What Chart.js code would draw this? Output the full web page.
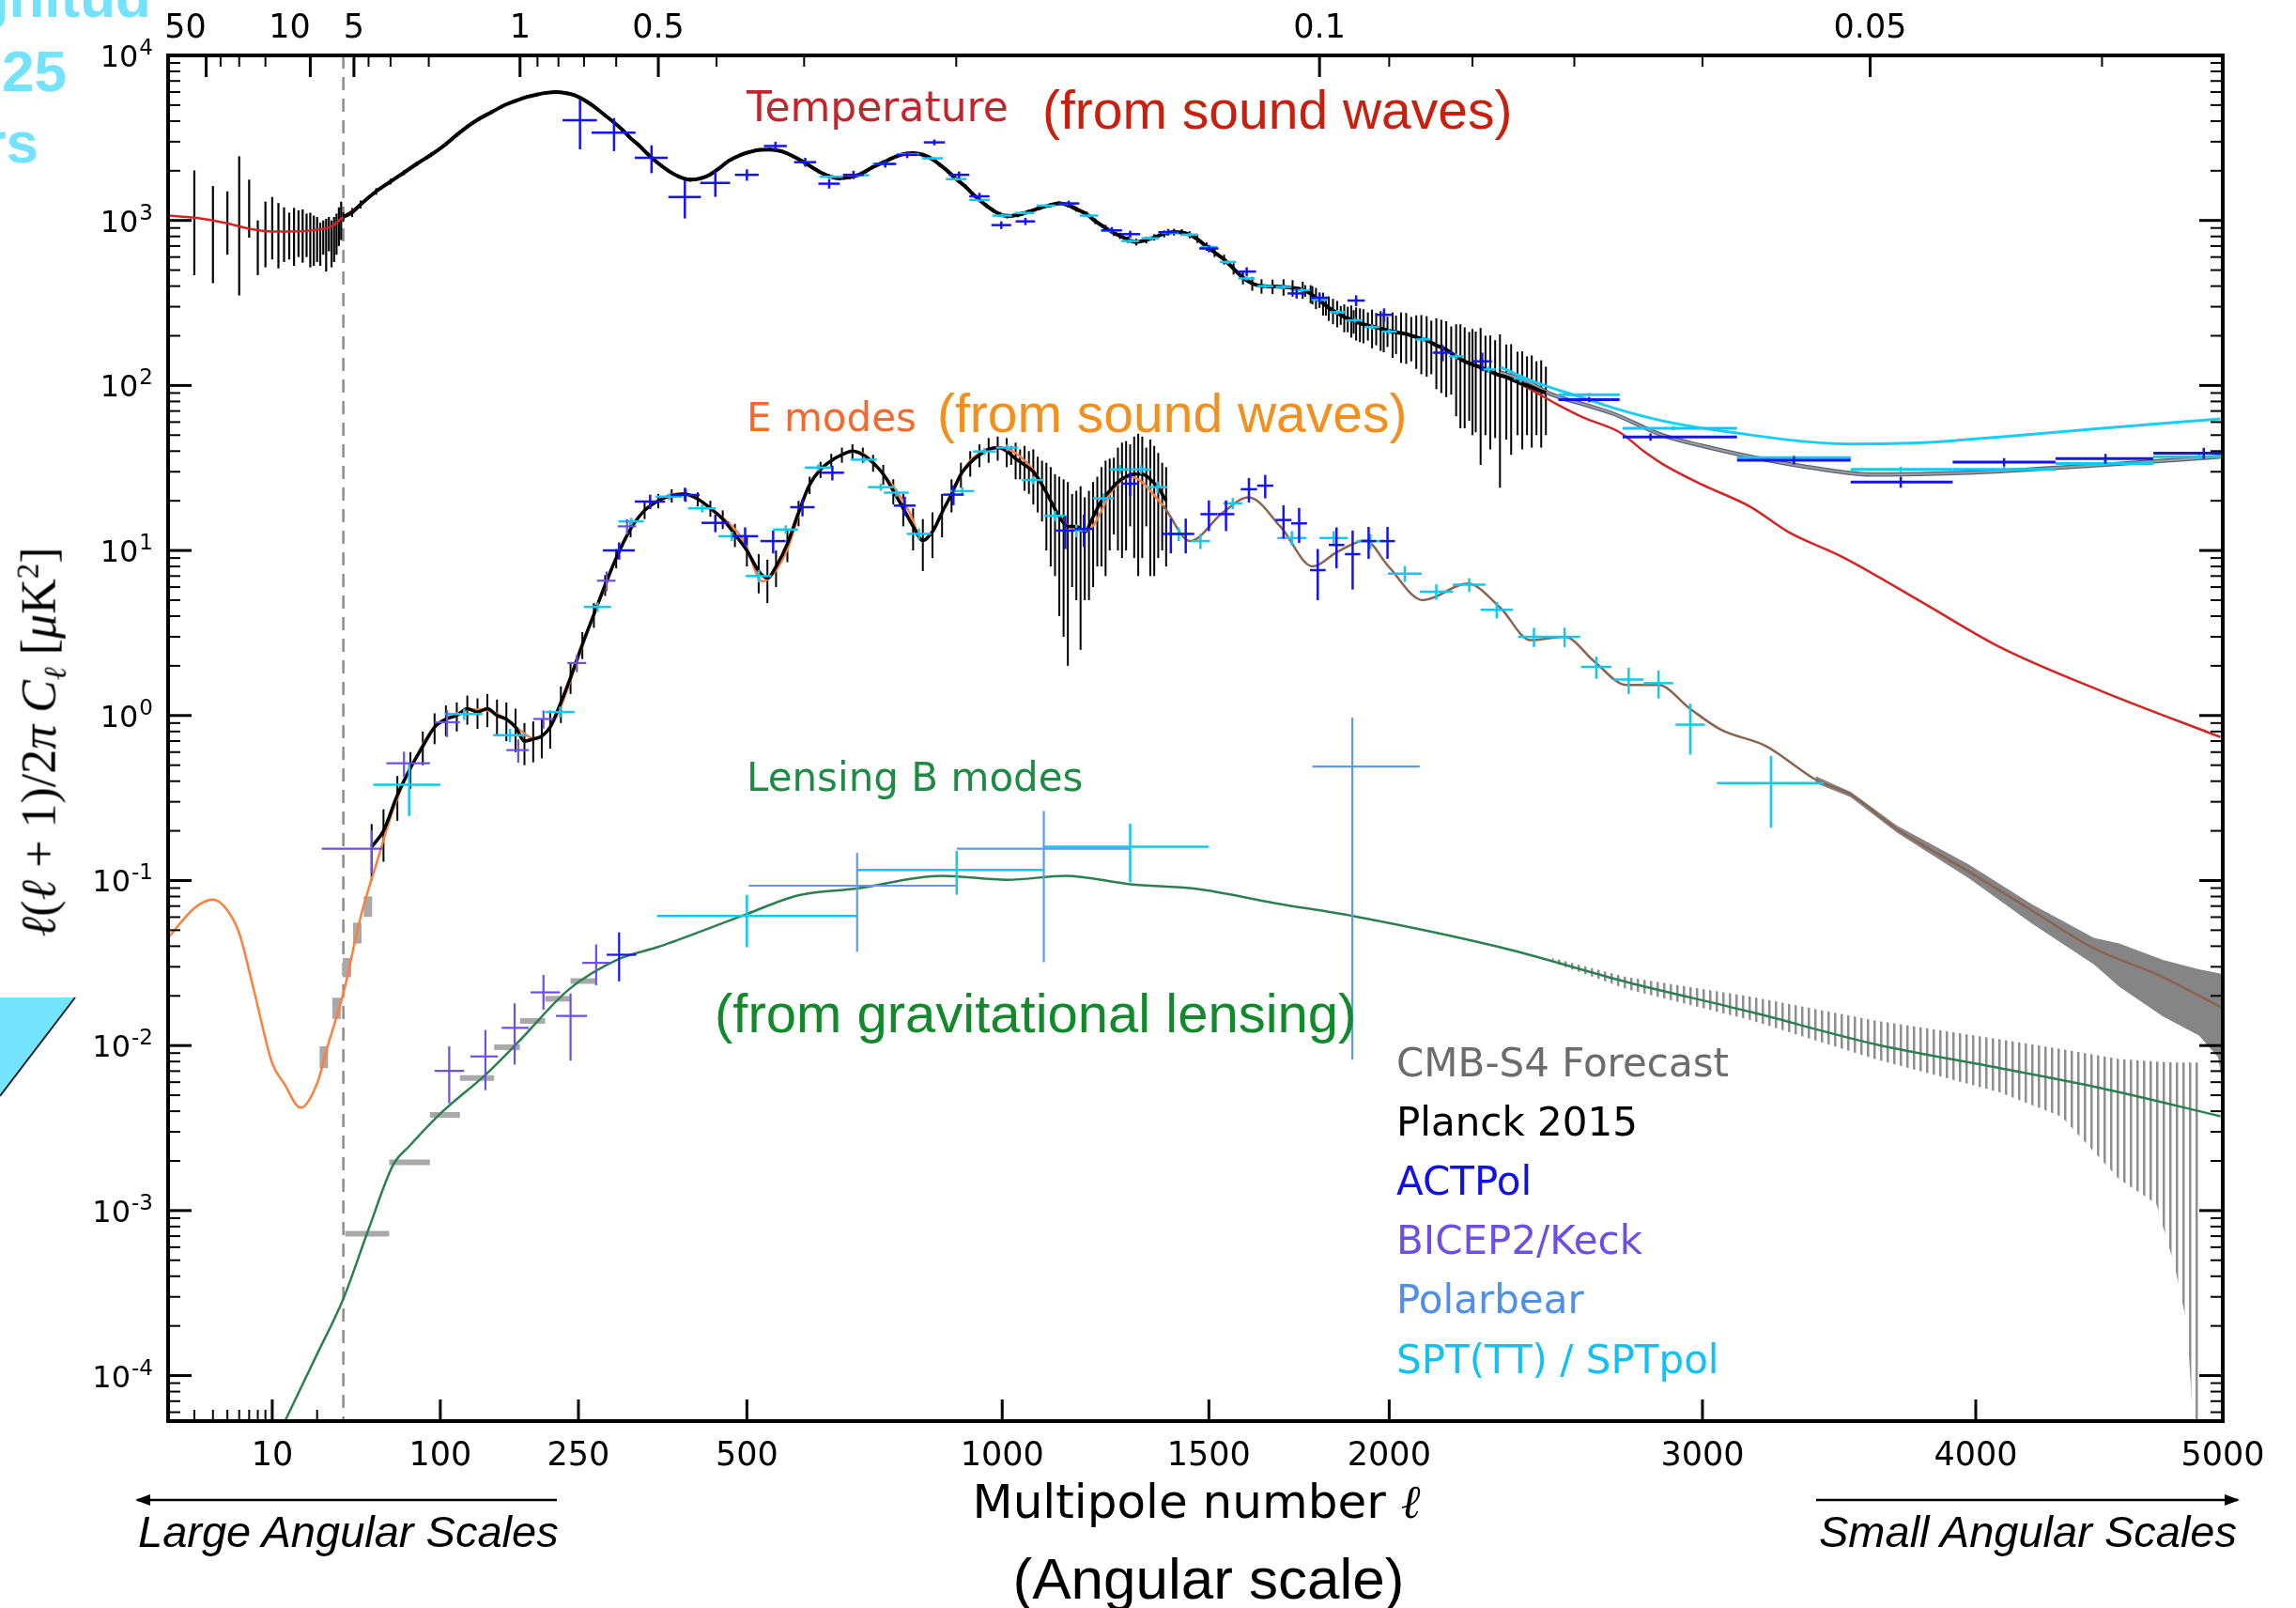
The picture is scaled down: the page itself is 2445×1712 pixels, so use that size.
<!DOCTYPE html>
<html><head><meta charset="utf-8">
<script src="https://cdn.jsdelivr.net/npm/chart.js@4.4.1/dist/chart.umd.min.js"></script>
<style>
html,body{margin:0;padding:0;background:#fff;}
body{width:2445px;height:1712px;position:relative;overflow:hidden;}
#c{position:absolute;left:0;top:0;}
.t{position:absolute;white-space:nowrap;line-height:1;pointer-events:none;}
.dj{font-family:'DejaVu Sans',sans-serif;}
.ls{font-family:'Liberation Sans',Arial,sans-serif;}
</style></head><body>
<canvas id="c" width="2445" height="1712" style="width:2445px;height:1712px"></canvas>

<div class="t ls" style="right:2284px;top:-34px;font-size:62px;font-weight:bold;color:#74e2fb">gnitud</div>
<div class="t ls" style="right:2374px;top:45px;font-size:62px;font-weight:bold;color:#74e2fb">25</div>
<div class="t ls" style="right:2404px;top:121px;font-size:62px;font-weight:bold;color:#74e2fb">rs</div>
<svg style="position:absolute;left:0;top:1055px" width="90" height="120"><polygon points="0,7 80,7 0,112" fill="#74e3fd"/><line x1="80" y1="7" x2="0" y2="112" stroke="#222" stroke-width="2"/></svg>

<div class="t dj" style="left:795px;top:92px;font-size:44px;color:#c0272d">Temperature</div>
<div class="t ls" style="left:1110px;top:89px;font-size:57px;color:#c8200e">(from sound waves)</div>
<div class="t dj" style="left:795px;top:424px;font-size:42px;color:#f4692e">E modes</div>
<div class="t ls" style="left:998px;top:412px;font-size:57px;color:#f0901e">(from sound waves)</div>
<div class="t dj" style="left:795px;top:807px;font-size:42px;color:#1f8a45">Lensing B modes</div>
<div class="t ls" style="left:761px;top:1050px;font-size:58px;color:#128a2c">(from gravitational lensing)</div>

<div class="t dj" style="left:1487px;top:1111px;font-size:42px;color:#6c6c6c">CMB-S4 Forecast</div>
<div class="t dj" style="left:1487px;top:1174px;font-size:42px;color:#000">Planck 2015</div>
<div class="t dj" style="left:1487px;top:1237px;font-size:42px;color:#1010ee">ACTPol</div>
<div class="t dj" style="left:1487px;top:1300px;font-size:42px;color:#6b4fe6">BICEP2/Keck</div>
<div class="t dj" style="left:1487px;top:1363px;font-size:42px;color:#4f8fe8">Polarbear</div>
<div class="t dj" style="left:1487px;top:1427px;font-size:42px;color:#12c0f2">SPT(TT) / SPTpol</div>

<div class="t dj" style="left:1274px;top:1574px;font-size:50px;color:#000;transform:translateX(-50%)">Multipole number <i style="font-family:'DejaVu Serif'">ℓ</i></div>
<div class="t ls" style="left:1287px;top:1650px;font-size:62px;color:#000;transform:translateX(-50%)">(Angular scale)</div>
<div class="t ls" style="left:147px;top:1607px;font-size:47px;color:#000;font-style:italic">Large Angular Scales</div>
<div class="t ls" style="left:1937px;top:1607px;font-size:47px;color:#000;font-style:italic">Small Angular Scales</div>
<div class="t" style="left:45px;top:790px;font-size:52px;color:#000;font-family:'Liberation Serif',serif;transform:translate(-50%,-50%) rotate(-90deg)"><i>ℓ</i>(<i>ℓ</i> + 1)/2<i>π</i> <i>C<sub style="font-size:33px">ℓ</sub></i> [<i>μ</i>K<sup style="font-size:33px">2</sup>]</div>

<script>
// ================= DATA =================
// Temperature theory (red)
const ttL = [2,3,4,5,7,10,15,20,25,30, 40,50,70,92,115,137,160,188,210,222,
  245,270,296,320,343,375,408,440,470,505, 539,580,626,665,700,728,770,810,850,882,
  920,950,980,1011,1060,1110,1140,1195,1240,1275, 1315,1360,1410,1450,1494,1540,1590,1640,1700,1753,
  1790,1826,1870,1904,1984,2050,2111,2170,2226,2290, 2355,2430,2515,2600,2720,2800,2864,3000,3167,3300,
  3500,3800,4093,4500,4990];
const ttD = [1070,1040,1000,960,890,857,860,880,920,1050, 1250,1500,1950,2500,3300,4140,4900,5610,5930,6000,
  5740,4900,3955,3150,2560,2000,1766,1900,2300,2600, 2690,2450,1990,1800,1880,2093,2400,2560,2350,1990,
  1600,1330,1150,1063,1130,1240,1268,1089,900,807, 740,790,850,820,695,580,450,400,395,380,
  340,296,260,242,219,205,188,165,140,125, 112,95,77,64,52,40,33.4,25,18.4,13,
  9.1,4.8,2.6,1.4,0.74];
// CMB-S4 forecast TT (grey) and SPT model (cyan) at high l
const ttS4L = [2336,2420,2500,2600,2697,2864,3000,3167,3400,3618,3850,4093,4500,4990];
const ttS4D = [120,106,88,77,67.6,49.9,43,37,31.5,28.8,29.2,30.2,33,37];
const sptModelL = [2336,2450,2597,2700,2864,3100,3528,3800,4093,4500,4990];
const sptModelD = [129,104,84.5,73,61,52,44.2,45,48.8,55,62.7];

// E-mode theory
const eeL = [2,3,4,5,6,7.5,10,12,15.5,20, 24,30,40,50,62,74,92,113,134,156,
  178,197,214,227,248,270,287,304,327,357, 395,447,495,526,568,607,650,697,760,803,
  830,882,927,998,1069,1144,1194,1261,1300,1382, 1451,1537,1605,1692,1781,1850,1930,1998,2100,2235,
  2336,2431,2540,2637,2743,2850,2957,3064,3222,3404, 3528,3700,3974,4218,4467,4750,5000];
const eeD = [0.045,0.068,0.0766,0.066,0.048,0.022,0.0078,0.0059,0.0042,0.0059, 0.0105,0.0207,0.06,0.125,0.27,0.46,0.8,1.02,1.09,1.02,
  0.83,0.72,0.83,1.1,2.1,4.1,6.3,10,15,19.8, 22.2,17.2,11.4,6.5,9.8,24.2,35,39.8,26.7,17,
  11.4,19.8,34.3,41.9,31,14.6,13.2,24,28,18.7, 11.4,17,21,13.9,8.0,9.8,11.5,8.0,5.0,6.3,
  4.5,2.86,3.0,2.12,1.53,1.53,1.1,0.82,0.653,0.405, 0.332,0.205,0.113,0.066,0.0388,0.026,0.0168];
// CMB-S4 EE forecast band
const s4EEbandL  = [3400,3528,3700,3974,4218,4467,4570,4750,4900,4980,5000];
const s4EEbandHi = [0.43,0.345,0.215,0.125,0.072,0.045,0.0415,0.033,0.029,0.0275,0.027];
const s4EEbandLo = [0.39,0.32,0.195,0.103,0.055,0.031,0.0227,0.015,0.0115,0.0085,0.0058];

// Lensing B-mode theory
const bbL = [10,12.3,20,30,45,62,74,102,143,178, 238,304,358,430,500,588,697,869,1011,1144,
  1300,1467,1678,1894,2336,2743,3167,3618,4093,4500, 4990];
const bbD = [3.6e-5,5.4e-5,1.35e-4,2.92e-4,7.7e-4,1.9e-3,2.45e-3,3.98e-3,6.65e-3,0.0105, 0.0219,0.0335,0.0394,0.05,0.0627,0.081,0.0893,0.1067,0.101,0.1067,
  0.095,0.089,0.0728,0.061,0.0394,0.0243,0.016,0.0102,0.0073,0.0055, 0.00373];
// CMB-S4 BB forecast error band (hatched)
const s4BBbandL  = [2500,2743,3167,3618,4093,4338,4570,4722,4800,4851,4903];
const s4BBbandHi = [0.034,0.026,0.0198,0.0142,0.0109,0.0095,0.0083,0.008,0.0079,0.0079,0.0079];
const s4BBbandLo = [0.032,0.022,0.0143,0.0083,0.0052,0.0037,0.00155,0.0011,0.00045,0.0002,0.00001];

// Planck 2015 TT low-l (vertical bars)
const pLowL  = [3,4,5,6,7,8,9,10,11,12,13,14,15,16,17,18,19,20,21,22,23,24,25,26,27,28,29];
const pLowD  = [1000,820,960,930,1180,690,820,900,810,820,800,800,830,800,810,760,750,770,720,790,710,830,720,770,830,920,1000];
const pLowLo = [466,417,620,351,787,466,520,580,512,560,580,531,600,555,600,520,531,560,531,620,490,650,520,560,620,700,760];
const pLowHi = [2010,1615,1500,2449,1767,1000,1300,1387,1274,1200,1114,1191,1150,1166,1100,1114,1070,1050,968,1000,1023,1050,1000,1050,1100,1200,1300];
// Planck 2015 TT l>=30
const pTTL = [30,35,40,50,60,70,80,92,105,115, 125,137,150,160,175,188,200,210,222,235,
  245,258,270,283,296,310,320,332,343,358, 375,390,408,425,440,455,470,490,505,522,
  539,560,580,600,626,645,665,685,700,715, 728,750,770,790,810,830,850,865,882,900,
  920,935,950,965,980,995,1011,1035,1060,1085, 1110,1130,1150,1170,1195,1215,1240,1260,1275,1295,
  1315,1340,1360,1385,1410,1430,1450,1470,1494,1515, 1540,1565,1590,1615,1640,1670,1700,1725,1753,1775,
  1790,1810,1826,1850,1870,1890,1904,1925,1950,1984, 2010,2050,2080,2111,2140,2170,2200,2226,2260,2290,
  2320,2355,2390,2420,2450,2480];
const pTTD = [1050,1120,1250,1500,1720,1950,2200,2500,2900,3300, 3700,4140,4550,4900,5300,5610,5800,5930,6000,5900,
  5740,5350,4900,4400,3955,3500,3150,2850,2560,2250, 2000,1850,1766,1800,1900,2080,2300,2500,2600,2680,
  2690,2620,2450,2250,1990,1860,1800,1830,1880,1980, 2093,2250,2400,2520,2560,2500,2350,2180,1990,1780,
  1600,1450,1330,1230,1150,1090,1063,1080,1130,1190, 1240,1268,1240,1170,1089,990,900,840,807,765,
  740,760,790,830,850,845,820,770,695,640, 580,510,450,415,400,398,395,390,380,360,
  340,315,296,275,260,250,242,235,228,219, 212,205,196,188,175,165,150,140,132,125,
  118,112,105,100,95,90];
const pTTE = [70,70,70,70,70,70,70,75,80,90, 100,110,120,120,130,130,140,140,140,140,
  130,120,110,100,90,80,70,70,60,60, 50,50,50,50,50,50,50,55,55,60,
  60,60,60,60,55,50,50,50,50,50, 55,60,60,60,65,65,65,60,60,55,
  50,45,40,40,35,35,35,35,35,35, 35,40,40,40,40,40,40,35,35,35,
  35,35,35,40,40,40,40,40,40,40, 40,40,40,40,40,40,45,45,45,45,
  50,50,50,50,50,55,55,55,60,60, 65,70,70,75,80,80,85,85,80,75,
  70,65,55,50,45,40];
// Planck TT extra scatter bars at high l
const pTTxL = [1760,1780,1800,1818,1838,1860,1880,1897,1915,1938, 1962,1975,1995,2020,2035,2065,2095,2125,2155,2185,
  2213,2240,2250,2275,2305,2335,2370,2405,2435,2465];
const pTTxD = [375,355,330,305,285,268,255,246,238,232, 225,222,216,210,207,200,192,182,170,158,
  145,136,135,128,121,114,108,101,97,92];
const pTTxE = [30,45,35,40,50,35,45,40,55,45, 50,60,45,55,70,60,75,65,80,70,
  90,75,85,95,80,90,70,60,55,50];
// Planck 2015 EE
const pEEL = [47,55,65,75,85,95,105,115,125,135, 145,155,165,175,185,195,205,215,228,240,
  255,270,285,300,320,340,360,380,400,420, 440,460,480,500,520,535,550,570,590,610,
  630,650,670,690,710,730,750,770,790,810, 830,850,870,890,910,930,950,970,990,1010,
  1030,1050,1070,1090,1110,1130,1150,1170,1190,1210, 1230,1250,1270,1290,1310,1330,1350,1370,1390];
const pEED = [0.16,0.2,0.33,0.48,0.65,0.85,0.95,1.0,1.1,1.05, 1.1,1.0,0.95,0.85,0.7,0.72,0.75,0.85,1.2,1.7,
  2.7,4.1,6.2,9,13.5,17.5,20,21.5,22,20.5, 18,15.5,12.5,10,7.5,6.8,8,11,17,25,
  31,35,38,40,38,34,29,23,18,14, 11.5,13,17,22,29,34,38,41,42,40,
  36,33,30,25,20,16,14,14,13,16, 20,23,26,28,29,29,27,24,20];
const pEEE = [0.06,0.07,0.1,0.12,0.15,0.18,0.2,0.2,0.22,0.22, 0.25,0.25,0.25,0.25,0.2,0.2,0.2,0.22,0.3,0.35,
  0.5,0.7,0.9,1.2,1.5,2,2,2,2,2, 2,2,2,2,2,2,2,2.5,3,3,
  3.5,3.5,4,4,4,4,4,4,4,4, 4,4,5,5,5,6,6,7,7,8,
  9,10,11,10,12,12,12,9,8,10, 12,13,16,18,20,20,20,15,12];
// Planck EE extra scatter bars
const pEExL = [1020,1040,1060,1080,1100,1120,1140,1160,1180,1200, 1220,1240,1260,1280,1300,1320,1340,1360,1380];
const pEExD = [38,34,31,27,22,18,15,14,13.5,14, 18,21,24.5,27,29,29,28,25,22];
const pEExE = [5,7,9,10,12,11,12,8,11,9, 10,14,12,18,15,22,14,18,12];

// ACTPol TT
const actTTL = [252,297,350,400,448,500,549,602,646,692, 754,798,854,906,950,998,1052,1152,1255,1300, 1395,1500,1600,1736,1800,1904,1985,2159,2280];
const actTTD = [4045,3400,2393,1387,1690,1890,2825,2255,1670,1890, 2200,2496,2972,1890,1400,937,987,1268,871,826, 849,676,490,361,340,327,268,158,140];
const actTTE = [1350,770,460,360,300,150,170,140,110,110, 110,110,120,90,70,50,50,50,40,40, 40,35,30,25,25,25,25,18,18];
const actTTW = [22,30,24,25,24,20,20,20,20,20, 22,22,22,22,22,22,22,25,25,25, 25,25,25,25,25,25,25,30,30];
const actTThL = [2620,2823,3322,3714,4110,4514,4920];
const actTThD = [82,48.7,35.2,26,34.3,36,38.9];
const actTThE = [3,2.5,2,2,2,2.5,3];
const actTThLo = [2520,2730,3120,3528,3911,4313,4710];
const actTThHi = [2720,3120,3528,3911,4313,4710,5000];
// SPT TT
const sptTTL = [650,700,750,800,850,900,950,1000,1050,1100, 1150,1200,1250,1300,1350,1400,1450,1500,1550,1600, 1650,1700,1750,1800,1850,1900,1950,2000,2100,2200, 2300,2400];
const sptTTD = [1840,1880,2200,2520,2380,1780,1330,1070,1110,1230, 1260,1070,870,750,780,840,820,690,560,445, 400,395,378,330,278,248,226,212,190,150, 125,110];
const sptTTE = [45,45,50,55,55,45,35,28,28,30, 30,27,22,20,20,22,22,18,15,12, 11,11,11,10,9,8,8,8,7,6, 6,6];
const sptTThL = [2620,2900,3322,3714,4110,4510,4900];
const sptTThD = [88,55,36.5,31,31,33.7,37];
const sptTThE = [2,1.5,1.2,1.2,1.2,1.3,1.5];
const sptTThLo = [2520,2730,3120,3528,3911,4313,4710];
const sptTThHi = [2720,3120,3528,3911,4313,4710,5000];

// E-mode measurements
const actEEL = [304,348,401,448,497,545,597,652,793,894, 1144,1188,1300,1402,1440,1500,1545,1606,1650,1700, 1743,1795,1848,1894,1940,1995];
const actEED = [10.0,19.8,21.7,14.7,12.2,11.4,18.3,29.6,18.7,21.8, 13.2,13.5,25.4,12.6,12.6,16.6,16.6,23.5,24.7,15.3, 14.6,7.6,10.8,9.5,11.4,11.4];
const actEEE = [1.2,2,2,1.8,1.6,1.8,2.2,3,2.5,3, 3,3,4,3,3,3.5,3.5,4,4,3.5, 3.5,2.6,3,3.7,2.5,2.5];
const sptEEL = [74,122,169,227,275,321,376,427,475,520, 567,626,712,745,776,822,913,961,1011,1069,
  1120,1170,1235,1275,1327,1368,1422,1478,1563,1723, 1840,1945,2046,2140,2240,2325,2442,2540,2643,2750, 2850,2958,3240];
const sptEED = [0.38,1.02,0.76,1.05,4.55,15.0,21.2,18.0,12.2,7.0, 13.4,31.8,35.5,24.2,22.4,12.6,22.9,39.8,42,26.7,
  16.2,13.2,20.7,31,31,24.2,12.6,11.4,19.3,11.9, 11.9,11.4,7.24,5.63,6.2,4.37,3.0,3.0,1.97,1.65, 1.57,0.88,0.389];
const sptEEE = [0.134,0.08,0.07,0.08,0.3,0.8,1,1,0.8,0.6, 0.8,1.5,1.5,1.2,1.2,1,1.3,2,2,1.5,
  1.2,1.2,1.5,2,2,2,1.2,1.2,1.5,1.2, 1.2,1.2,0.8,0.6,0.6,0.5,0.4,0.4,0.3,0.3, 0.3,0.3,0.18];
const sptEEW = [26,18,18,18,18,18,20,22,22,22, 22,25,25,25,25,25,25,25,25,25,
  25,25,25,25,25,25,25,25,25,40, 40,40,50,50,50,50,50,50,50,50, 50,50,190];
const bicepEEL = [47,70,106,178,207,248,287,315];
const bicepEED = [0.156,0.513,0.91,0.617,0.953,2.08,6.56,14.0];
const bicepEEE = [0.045,0.09,0.17,0.1,0.12,0.25,0.9,1.5];
const bicepEELo = [21.5,57,95,165,195,236,274,302];
const bicepEEHi = [54.6,91,118,190,219,260,299,328];
const s4EEL = [22.2,27,32,38,44.6];
const s4EED = [0.0086,0.017,0.0299,0.0485,0.0702];
const s4EEE = [0.0013,0.0025,0.004,0.007,0.01];

// B-mode measurements
const bicepBBL = [108,143,174,207,240,273];
const bicepBBD = [0.00703,0.00859,0.0128,0.021,0.0151,0.0317];
const bicepBBYlo = [0.00447,0.00537,0.00766,0.0165,0.0081,0.0232];
const bicepBBYhi = [0.0099,0.0124,0.018,0.0268,0.0207,0.041];
const bicepBBLo = [95,128,160,192,222,255];
const bicepBBHi = [122,156,190,227,261,292];
const actBBL = [304], actBBD = [0.0355], actBBYlo = [0.0245], actBBYhi = [0.0485], actBBLo = [287], actBBHi = [328];
const pbBBL = [699,1094,1893];
const pbBBD = [0.093,0.156,0.49];
const pbBBYlo = [0.037,0.032,0.0082];
const pbBBYhi = [0.147,0.264,0.97];
const pbBBLo = [503,901,1780];
const pbBBHi = [901,1300,2090];
const sptBBL = [500,901,1300];
const sptBBD = [0.061,0.116,0.16];
const sptBBYlo = [0.0394,0.082,0.0975];
const sptBBYhi = [0.0818,0.151,0.221];
const sptBBLo = [358,699,1094];
const sptBBHi = [699,1094,1500];
const s4BBL = [45,74.4,104,135,166,195,225,256];
const s4BBD = [7.24e-4,1.96e-3,3.8e-3,6.35e-3,9.77e-3,0.0141,0.0192,0.0246];
const s4BBLo = [31,59,91,118,152,180,209,240];
const s4BBHi = [59,91,118,152,180,209,240,273];

// Axis ticks
const bottomTickL = [10,100,250,500,1000,1500,2000,3000,4000,5000];
const bottomMinorL = [3,4,5,6,7,8,9,20];
const topDeg = [50,10,5,1,0.5,0.1,0.05];
const topDegLabels = ['50','10','5','1','0.5','0.1','0.05'];
const topLabelShift = [-22,-22,0,0,0,0,0];
const topMinorDeg = [40,30,20,4,3,2,0.9,0.8,0.7,0.6,0.4,0.3,0.2,0.09,0.08,0.07,0.06,0.04];
const yTickExp = [-4,-3,-2,-1,0,1,2,3,4];
const dashedAtL = 30;

// ================= hybrid multipole scale (log below 30, l^0.6 above) =================
const SPLIT = 30, LOGPX = 159.0, POWK = 12.69, POW = 0.6;
function fwd(l){ l = Math.max(l, 1e-3); return l <= SPLIT ? LOGPX*Math.log10(l/2) : LOGPX*Math.log10(SPLIT/2) + POWK*(Math.pow(l,POW)-Math.pow(SPLIT,POW)); }
function inv(u){ const s = LOGPX*Math.log10(SPLIT/2); return u <= s ? 2*Math.pow(10,u/LOGPX) : Math.pow((u-s)/POWK + Math.pow(SPLIT,POW), 1/POW); }
class EllScale extends Chart.LinearScale {
  determineDataLimits(){ this.min = this.options.min; this.max = this.options.max; }
  buildTicks(){ return (this.options.tickValues || []).map(v => ({value: v})); }
  configure(){ super.configure(); this._u0 = fwd(this.min); this._u1 = fwd(this.max); }
  getPixelForValue(v){ return this.getPixelForDecimal((fwd(v)-this._u0)/(this._u1-this._u0)); }
  getValueForPixel(p){ return inv(this._u0 + this.getDecimalForPixel(p)*(this._u1-this._u0)); }
}
EllScale.id = 'ell';
Chart.register(EllScale);

// ================= helpers =================
const P = (L, D) => L.map((l,i) => ({x:l, y:D[i]}));
const V = (a, i) => (typeof a === 'number' ? a : a[i]);
function line(L, D, o){ return Object.assign({type:'line', data:P(L,D), xAxisID:'x', yAxisID:'y', pointRadius:0, fill:false, cubicInterpolationMode:'monotone', borderJoinStyle:'round'}, o); }
function marks(L, D, bars){ return {type:'line', data:P(L,D), xAxisID:'x', yAxisID:'y', showLine:false, pointRadius:0, order:0, bars}; }
function symY(D, E){ return {ylo: D.map((d,i)=>d-V(E,i)), yhi: D.map((d,i)=>d+V(E,i))}; }
function symX(L, W){ return {xlo: L.map((l,i)=>l-V(W,i)), xhi: L.map((l,i)=>l+V(W,i))}; }

const ctx0 = document.getElementById('c').getContext('2d');
function hatch(color, w, period){
  const c = document.createElement('canvas'); c.width = period; c.height = 4;
  const g = c.getContext('2d'); g.fillStyle = color; g.fillRect(0,0,w,4);
  return ctx0.createPattern(c, 'repeat');
}

const C = {act:'#1414f0', bicep:'#6b4fe6', pb:'#5b9af0', spt:'#14c6f2', s4:'#a9a9a9', planck:'#000'};

const datasets = [
  line(s4BBbandL, s4BBbandHi, {borderWidth:0, fill:'+1', backgroundColor:hatch('#8e8e8e',2.5,7), cubicInterpolationMode:'default', tension:0, order:40}),
  line(s4BBbandL, s4BBbandLo, {borderWidth:0, cubicInterpolationMode:'default', tension:0, order:41}),
  line(s4EEbandL, s4EEbandHi, {borderWidth:0, fill:'+1', backgroundColor:'rgba(112,112,112,0.85)', cubicInterpolationMode:'default', tension:0, order:38}),
  line(s4EEbandL, s4EEbandLo, {borderWidth:0, cubicInterpolationMode:'default', tension:0, order:39}),
  line(ttL, ttD, {borderColor:'#d42424', borderWidth:2.5, order:30}),
  line(ttS4L, ttS4D, {borderColor:'#5d6270', borderWidth:4.5, order:29}),
  line(ttS4L, ttS4D, {borderColor:'#9a9ca6', borderWidth:2, order:28}),
  line(sptModelL, sptModelD, {borderColor:'#18cdf8', borderWidth:3, order:27}),
  line(eeL, eeD, {borderWidth:2.5, order:30, segment:{borderColor: c => c.p0.parsed.x >= 1380 ? '#8a6450' : '#ff7f3a'}}),
  line(bbL, bbD, {borderColor:'#2c8050', borderWidth:2.5, order:25}),
  line(pTTL, pTTD, {borderColor:'#000', borderWidth:4, order:20}),
  line(pEEL, pEED, {borderColor:'#000', borderWidth:3.5, order:20}),
  marks(s4EEL, s4EED, Object.assign({layer:'under', z:0, color:C.s4, vw:9}, symY(s4EED, s4EEE))),
  marks(s4BBL, s4BBD, {layer:'under', z:0, color:C.s4, hw:6, xlo:s4BBLo, xhi:s4BBHi}),
  marks(pLowL, pLowD, {layer:'under', z:1, color:C.planck, vw:2.2, ylo:pLowLo, yhi:pLowHi}),
  marks(pTTL, pTTD, Object.assign({layer:'under', z:1, color:C.planck, vw:2}, symY(pTTD, pTTE))),
  marks(pTTxL, pTTxD, Object.assign({layer:'under', z:1, color:C.planck, vw:2}, symY(pTTxD, pTTxE))),
  marks(pEEL, pEED, Object.assign({layer:'under', z:1, color:C.planck, vw:2}, symY(pEED, pEEE))),
  marks(pEExL, pEExD, Object.assign({layer:'under', z:1, color:C.planck, vw:2}, symY(pEExD, pEExE))),
  marks(sptTTL, sptTTD, Object.assign({layer:'over', z:2, color:C.spt, vw:2.5, hw:2.5}, symY(sptTTD, sptTTE), symX(sptTTL, 22))),
  marks(sptTThL, sptTThD, Object.assign({layer:'over', z:2, color:C.spt, vw:2.5, hw:3, xlo:sptTThLo, xhi:sptTThHi}, symY(sptTThD, sptTThE))),
  marks(sptEEL, sptEED, Object.assign({layer:'over', z:2, color:C.spt, vw:2.5, hw:2.5}, symY(sptEED, sptEEE), symX(sptEEL, sptEEW))),
  marks(sptBBL, sptBBD, {layer:'over', z:2, color:C.spt, vw:2.5, hw:2.5, ylo:sptBBYlo, yhi:sptBBYhi, xlo:sptBBLo, xhi:sptBBHi}),
  marks(pbBBL, pbBBD, {layer:'over', z:3, color:C.pb, vw:2.2, hw:2.2, ylo:pbBBYlo, yhi:pbBBYhi, xlo:pbBBLo, xhi:pbBBHi}),
  marks(bicepEEL, bicepEED, Object.assign({layer:'over', z:4, color:C.bicep, vw:2.2, hw:2.2, xlo:bicepEELo, xhi:bicepEEHi}, symY(bicepEED, bicepEEE))),
  marks(bicepBBL, bicepBBD, {layer:'over', z:4, color:C.bicep, vw:2.2, hw:2.2, ylo:bicepBBYlo, yhi:bicepBBYhi, xlo:bicepBBLo, xhi:bicepBBHi}),
  marks(actBBL, actBBD, {layer:'over', z:5, color:C.act, vw:2.2, hw:2.2, ylo:actBBYlo, yhi:actBBYhi, xlo:actBBLo, xhi:actBBHi}),
  marks(actTTL, actTTD, Object.assign({layer:'over', z:5, color:C.act, vw:2.5, hw:2.5}, symY(actTTD, actTTE), symX(actTTL, actTTW))),
  marks(actTThL, actTThD, Object.assign({layer:'over', z:5, color:C.act, vw:2.5, hw:3, xlo:actTThLo, xhi:actTThHi}, symY(actTThD, actTThE))),
  marks(actEEL, actEED, Object.assign({layer:'over', z:5, color:C.act, vw:2.5, hw:2.5}, symY(actEED, actEEE), symX(actEEL, 22)))
];

// ================= plugins =================
function drawBars(chart, layer){
  const {ctx, chartArea:a, scales:{x, y}} = chart;
  ctx.save();
  ctx.beginPath(); ctx.rect(a.left, a.top, a.width, a.height); ctx.clip();
  ctx.lineCap = 'butt';
  chart.data.datasets.filter(d => d.bars && d.bars.layer === layer)
    .sort((p, q) => p.bars.z - q.bars.z)
    .forEach(ds => {
      const b = ds.bars; ctx.strokeStyle = b.color;
      ds.data.forEach((pt, i) => {
        const px = x.getPixelForValue(pt.x), py = y.getPixelForValue(pt.y);
        if (b.ylo) {
          ctx.lineWidth = b.vw; ctx.beginPath();
          ctx.moveTo(px, y.getPixelForValue(Math.max(b.ylo[i], 1e-7)));
          ctx.lineTo(px, y.getPixelForValue(b.yhi[i])); ctx.stroke();
        }
        if (b.xlo) {
          ctx.lineWidth = b.hw; ctx.beginPath();
          ctx.moveTo(x.getPixelForValue(b.xlo[i]), py);
          ctx.lineTo(x.getPixelForValue(b.xhi[i]), py); ctx.stroke();
        }
      });
    });
  ctx.restore();
}
const errorBars = {
  id:'errorBars',
  beforeDatasetsDraw(chart){
    const {ctx, chartArea:a, scales:{x}} = chart;
    const px = x.getPixelForValue(dashedAtL);
    ctx.save(); ctx.strokeStyle = '#8c8c8c'; ctx.lineWidth = 2.5; ctx.setLineDash([14, 9]);
    ctx.beginPath(); ctx.moveTo(px, a.top); ctx.lineTo(px, a.bottom); ctx.stroke(); ctx.restore();
    drawBars(chart, 'under');
  },
  afterDatasetsDraw(chart){ drawBars(chart, 'over'); }
};
const decor = {
  id:'decor',
  afterDraw(chart){
    const {ctx, chartArea:a, scales:{x, y}} = chart;
    ctx.save();
    ctx.strokeStyle = '#000'; ctx.fillStyle = '#000'; ctx.lineCap = 'butt';
    const seg = (x1, y1, x2, y2, w) => { ctx.lineWidth = w; ctx.beginPath(); ctx.moveTo(x1, y1); ctx.lineTo(x2, y2); ctx.stroke(); };
    bottomTickL.forEach(v => { const p = x.getPixelForValue(v); seg(p, a.bottom, p, a.bottom-23, 3); });
    bottomMinorL.forEach(v => { const p = x.getPixelForValue(v); seg(p, a.bottom, p, a.bottom-12, 2); });
    topDeg.forEach(d => { const p = x.getPixelForValue(180/d); seg(p, a.top, p, a.top+23, 3); });
    topMinorDeg.forEach(d => { const p = x.getPixelForValue(180/d); seg(p, a.top, p, a.top+12, 2); });
    for (let n = -5; n <= 4; n++) for (let k = 1; k <= 9; k++) {
      const v = k*Math.pow(10, n); if (v < y.min || v > y.max*1.0001) continue;
      const p = y.getPixelForValue(v), L = k === 1 ? 25 : 13, w = k === 1 ? 3 : 2;
      seg(a.left, p, a.left+L, p, w); seg(a.right, p, a.right-L, p, w);
    }
    ctx.lineWidth = 4; ctx.strokeRect(a.left, a.top, a.width, a.height);
    // top (angular-scale, degrees) tick labels
    ctx.font = '35px "DejaVu Sans"'; ctx.textAlign = 'center'; ctx.textBaseline = 'middle';
    topDeg.forEach((d, i) => { ctx.fillText(topDegLabels[i], x.getPixelForValue(180/d) + topLabelShift[i], a.top - 28); });
    // y tick labels 10^n
    yTickExp.forEach(n => {
      const p = y.getPixelForValue(Math.pow(10, n)), e = String(n);
      ctx.font = '23px "DejaVu Sans"'; const we = ctx.measureText(e).width;
      ctx.textAlign = 'left'; ctx.textBaseline = 'alphabetic'; ctx.fillText(e, a.left-16-we, p-1);
      ctx.font = '32px "DejaVu Sans"'; ctx.textAlign = 'right'; ctx.fillText('10', a.left-16-we-1, p+12);
    });
    const arrow = (x1, x2, yy) => {
      seg(x1, yy, x2, yy, 2.5);
      const d = Math.sign(x2 - x1);
      ctx.beginPath(); ctx.moveTo(x2+d*2, yy); ctx.lineTo(x2-d*14, yy-6); ctx.lineTo(x2-d*14, yy+6); ctx.closePath(); ctx.fill();
    };
    arrow(593, 146, 1597); arrow(1934, 2383, 1597);
    ctx.restore();
  }
};

const tickFont = {family:'DejaVu Sans', size:35};
new Chart(document.getElementById('c'), {
  type:'line',
  data:{datasets},
  options:{
    responsive:false, animation:false, devicePixelRatio:1, events:[],
    layout:{padding:{left:0, right:78, top:0, bottom:0}},
    plugins:{legend:{display:false}, tooltip:{enabled:false}},
    scales:{
      x:{type:'ell', position:'bottom', min:2, max:5000, tickValues:bottomTickL,
         afterFit: s => { s.height = 199; },
         grid:{display:false}, border:{display:false},
         ticks:{autoSkip:false, maxRotation:0, minRotation:0, padding:9, color:'#000', font:tickFont, callback: v => String(v)}},
      x2:{type:'ell', position:'top', min:2, max:5000, tickValues:[],
         afterFit: s => { s.height = 59; },
         grid:{display:false}, border:{display:false}, ticks:{display:false}},
      y:{type:'logarithmic', position:'left', min:5.3e-5, max:1e4,
         afterFit: s => { s.width = 179; },
         grid:{display:false}, border:{display:false}, ticks:{display:false}}
    }
  },
  plugins:[errorBars, decor]
});
</script>
</body></html>
